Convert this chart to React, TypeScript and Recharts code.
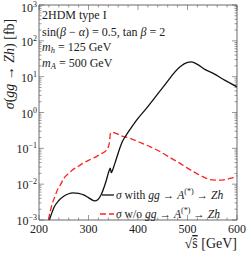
import React from "react";
import { LineChart, Line, XAxis, YAxis } from "recharts";

// sqrt(s) in GeV and sigma in fb
const withS = [221, 230, 240, 250, 260, 268, 280, 290, 300, 308, 313, 318, 325, 335, 342, 344, 346, 350, 355, 362, 368, 375, 384, 395, 417, 451, 485, 500, 508, 520, 535, 552, 575, 600];
const withSigma = [0.001, 0.0022, 0.0035, 0.0046, 0.0054, 0.0057, 0.0055, 0.005, 0.0042, 0.0036, 0.0034, 0.0036, 0.0049, 0.0115, 0.0245, 0.028, 0.021, 0.028, 0.045, 0.09, 0.15, 0.22, 0.34, 0.56, 1.3, 5.2, 19, 25, 26, 22, 16, 12.3, 8, 5.2];

const withoutS = [219, 223, 227, 232, 237, 244, 250, 258, 267, 280, 290, 301, 315, 325, 335, 339, 342, 344.6, 347, 368, 384, 402, 425, 451, 470, 485, 500, 518, 532, 545, 556, 566, 577, 586, 600];
const withoutSigma = [0.001, 0.0018, 0.0029, 0.0045, 0.0068, 0.01, 0.0144, 0.019, 0.0245, 0.032, 0.039, 0.047, 0.058, 0.07, 0.085, 0.1, 0.14, 0.27, 0.28, 0.22, 0.19, 0.15, 0.11, 0.072, 0.05, 0.038, 0.028, 0.02, 0.016, 0.0135, 0.013, 0.0129, 0.0135, 0.0144, 0.017];

const xMajor = [200, 300, 400, 500, 600];
const xMinor = [220, 240, 260, 280, 320, 340, 360, 380, 420, 440, 460, 480, 520, 540, 560, 580];
const yDecades = [-3, -2, -1, 0, 1, 2, 3];
const yMinorSteps = [2, 3, 4, 5, 6, 7, 8, 9];

const withData = withS.map((s, i) => ({ s, sigma: withSigma[i] }));
const withoutData = withoutS.map((s, i) => ({ s, sigma: withoutSigma[i] }));
const yTicks: number[] = [];
yDecades.forEach((k, i) => {
  yTicks.push(Math.pow(10, k));
  if (i < yDecades.length - 1) yMinorSteps.forEach((m) => yTicks.push(m * Math.pow(10, k)));
});
const xTicks = [...xMajor, ...xMinor].sort((a, b) => a - b);

const FONT = "'Liberation Serif', 'Times New Roman', serif";
const TXT = "#222";
const TICK = "#555";

const isMajorY = (v: number) => Math.abs(Math.log10(v) - Math.round(Math.log10(v))) < 1e-6;
const minus = (k: number) => (k < 0 ? "\u2212" + Math.abs(k) : String(k));

const LeftTick = (props: any) => {
  const { x, y, payload } = props;
  const major = isMajorY(payload.value);
  const k = Math.round(Math.log10(payload.value));
  // top label pushed down a little so its exponent stays inside the picture
  const ty = k === 3 ? y + 6.5 : y + 5;
  return (
    <g>
      <line x1={x} y1={y} x2={x + (major ? 5 : 2.5)} y2={y} stroke={TICK} strokeWidth={0.6} />
      {major && (
        <text x={x - 2} y={ty} textAnchor="end" fontSize={12} fontFamily={FONT} fill={TXT}>
          10<tspan dy={-5} fontSize={8}>{minus(k)}</tspan>
        </text>
      )}
    </g>
  );
};

const RightTick = (props: any) => {
  const { x, y, payload } = props;
  const major = isMajorY(payload.value);
  return <line x1={x} y1={y} x2={x - (major ? 5 : 2.5)} y2={y} stroke={TICK} strokeWidth={0.6} />;
};

const BottomTick = (props: any) => {
  const { x, y, payload } = props;
  const major = payload.value % 100 === 0;
  return (
    <g>
      <line x1={x} y1={y} x2={x} y2={y - (major ? 5 : 2.5)} stroke={TICK} strokeWidth={0.6} />
      {major && (
        <text x={x} y={y + 13} textAnchor="middle" fontSize={12} fontFamily={FONT} fill={TXT}>
          {payload.value}
        </text>
      )}
    </g>
  );
};

const TopTick = (props: any) => {
  const { x, y, payload } = props;
  const major = payload.value % 100 === 0;
  return <line x1={x} y1={y} x2={x} y2={y + (major ? 5 : 2.5)} stroke={TICK} strokeWidth={0.6} />;
};

const it = { fontStyle: "italic" as const };
const frame = { stroke: "#444", strokeWidth: 0.8 };

export default function App() {
  return (
    <div style={{ position: "absolute", left: 0, top: 0, width: 249, height: 254 }}>
      <LineChart width={249} height={254} margin={{ top: 4, right: 11, bottom: 33, left: 38 }}>
        <XAxis xAxisId={0} dataKey="s" type="number" domain={[200, 600]} allowDataOverflow ticks={xTicks} interval={0}
          height={1} tickSize={0} tickMargin={0} tickLine={false} tick={<BottomTick />} axisLine={frame} />
        <XAxis xAxisId="top" orientation="top" dataKey="s" type="number" domain={[200, 600]} allowDataOverflow ticks={xTicks} interval={0}
          height={1} tickSize={0} tickMargin={0} tickLine={false} tick={<TopTick />} axisLine={frame} />
        <YAxis yAxisId={0} dataKey="sigma" type="number" scale="log" domain={[0.001, 1000]} allowDataOverflow ticks={yTicks} interval={0}
          width={1} tickSize={0} tickMargin={0} tickLine={false} tick={<LeftTick />} axisLine={frame} />
        <YAxis yAxisId="right" orientation="right" dataKey="sigma" type="number" scale="log" domain={[0.001, 1000]} allowDataOverflow ticks={yTicks} interval={0}
          width={1} tickSize={0} tickMargin={0} tickLine={false} tick={<RightTick />} axisLine={frame} />
        <Line data={withoutData} dataKey="sigma" type="monotone" stroke="#ff2020" strokeWidth={1.3} strokeDasharray="6 3" dot={false} isAnimationActive={false} />
        <Line data={withData} dataKey="sigma" type="monotone" stroke="#111" strokeWidth={1.3} dot={false} isAnimationActive={false} />
      </LineChart>
      <svg width={249} height={254} style={{ position: "absolute", left: 0, top: 0, pointerEvents: "none" }} fontFamily={FONT} fill={TXT}>
        <text x={42} y={19} fontSize={12}>2HDM type I</text>
        <text x={42} y={35.5} fontSize={12}>
          sin(<tspan {...it}>β</tspan> − <tspan {...it}>α</tspan>) = 0.5, tan <tspan {...it}>β</tspan> = 2
        </text>
        <text x={42} y={51} fontSize={12}>
          <tspan {...it}>m</tspan><tspan {...it} fontSize={8.5} dy={2}>h</tspan><tspan dy={-2}> = 125 GeV</tspan>
        </text>
        <text x={42} y={67} fontSize={12}>
          <tspan {...it}>m</tspan><tspan {...it} fontSize={8.5} dy={2}>A</tspan><tspan dy={-2}> = 500 GeV</tspan>
        </text>
        <text transform="translate(14,64) rotate(-90)" textAnchor="middle" fontSize={14}>
          <tspan {...it}>σ</tspan>(<tspan {...it}>gg</tspan> → <tspan {...it}>Zh</tspan>) [fb]
        </text>
        <text x={237} y={248} textAnchor="end" fontSize={14}>
          √<tspan textDecoration="overline">ŝ</tspan> [GeV]
        </text>
        <line x1={102} y1={195} x2={114} y2={195} stroke="#111" strokeWidth={1.3} />
        <text x={116} y={199} fontSize={11.6}>
          <tspan {...it}>σ</tspan> with <tspan {...it}>gg</tspan> → <tspan {...it}>A</tspan><tspan fontSize={8} dy={-5}>(*)</tspan><tspan dy={5}> → </tspan><tspan {...it}>Zh</tspan>
        </text>
        <line x1={100} y1={214} x2={114} y2={214} stroke="#ff2020" strokeWidth={1.3} strokeDasharray="6 3" />
        <text x={116} y={218} fontSize={11.6}>
          <tspan {...it}>σ</tspan> w/o <tspan {...it}>gg</tspan> → <tspan {...it}>A</tspan><tspan fontSize={8} dy={-5}>(*)</tspan><tspan dy={5}> → </tspan><tspan {...it}>Zh</tspan>
        </text>
      </svg>
    </div>
  );
}
